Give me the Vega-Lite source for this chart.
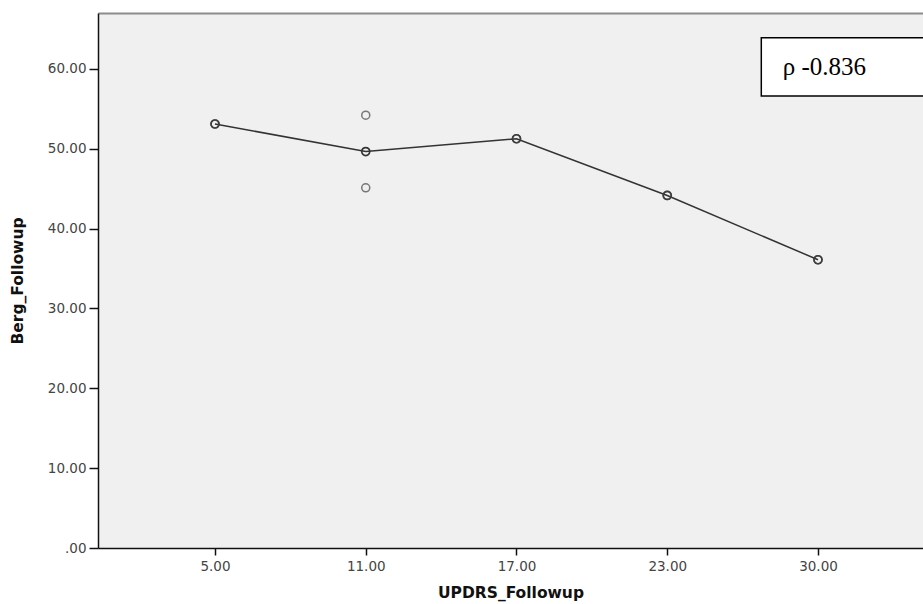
{
  "$schema": "https://vega.github.io/schema/vega-lite/v6.json",
  "autosize": {"type": "none"},
  "padding": {"left": 98, "top": 13, "right": 0, "bottom": 56},
  "width": 825,
  "height": 535,
  "background": "white",
  "config": {
    "view": {"stroke": null, "fill": "#f0f0f0"},
    "axis": {
      "labelFont": "DejaVu Sans",
      "labelFontSize": 13.5,
      "labelColor": "#444444",
      "titleFont": "DejaVu Sans",
      "titleFontSize": 15.5,
      "titleFontWeight": "bold",
      "titleColor": "#111111",
      "domainColor": "#111111",
      "domainWidth": 1.5,
      "tickColor": "#111111",
      "tickWidth": 1.5,
      "grid": false
    }
  },
  "datasets": {
    "scores": [
      {"UPDRS_Followup": 5, "Berg_Followup": 53.1},
      {"UPDRS_Followup": 11, "Berg_Followup": 54.2},
      {"UPDRS_Followup": 11, "Berg_Followup": 45.1},
      {"UPDRS_Followup": 17, "Berg_Followup": 51.25},
      {"UPDRS_Followup": 23, "Berg_Followup": 44.15},
      {"UPDRS_Followup": 30, "Berg_Followup": 36.1}
    ],
    "note": [{"label": "ρ -0.836"}]
  },
  "layer": [
    {
      "data": {"name": "scores"},
      "layer": [
        {
          "mark": {"type": "line", "color": "#333333", "strokeWidth": 1.5},
          "encoding": {
            "x": {"field": "UPDRS_Followup", "type": "ordinal"},
            "y": {"aggregate": "mean", "field": "Berg_Followup", "type": "quantitative"}
          }
        },
        {
          "mark": {"type": "point", "shape": "circle", "filled": false, "color": "#333333", "strokeWidth": 1.7, "size": 64},
          "encoding": {
            "x": {"field": "UPDRS_Followup", "type": "ordinal"},
            "y": {"aggregate": "mean", "field": "Berg_Followup", "type": "quantitative"}
          }
        },
        {
          "mark": {"type": "point", "shape": "circle", "filled": false, "color": "#444444", "strokeWidth": 1.5, "size": 64},
          "encoding": {
            "x": {
              "field": "UPDRS_Followup",
              "type": "ordinal",
              "scale": {"type": "point", "padding": 0.7363, "align": 0.527},
              "axis": {
                "labelAngle": 0,
                "labelAlign": "center",
                "labelBaseline": "top",
                "labelExpr": "format(datum.value, '.2f')",
                "tickSize": 7,
                "labelPadding": 4,
                "titlePadding": 13,
                "title": "UPDRS_Followup"
              }
            },
            "y": {
              "field": "Berg_Followup",
              "type": "quantitative",
              "scale": {"domain": [0, 67], "nice": false, "zero": true},
              "axis": {
                "values": [0, 10, 20, 30, 40, 50, 60],
                "labelExpr": "datum.value == 0 ? '.00' : format(datum.value, '.2f')",
                "tickSize": 9,
                "labelPadding": 3,
                "titlePadding": 22,
                "title": "Berg_Followup"
              }
            }
          }
        }
      ]
    },
    {
      "data": {"name": "note"},
      "layer": [
        {
          "mark": {"type": "rect", "fill": "white", "stroke": "black", "strokeWidth": 1.5, "clip": true},
          "encoding": {
            "x": {
              "datum": 0.804,
              "type": "quantitative",
              "scale": {"domain": [0, 1], "nice": false},
              "axis": {"orient": "top", "labels": false, "ticks": false, "title": null, "domainColor": "#8c8c8c", "domainWidth": 2}
            },
            "x2": {"datum": 1.02},
            "y": {"datum": 63.9, "type": "quantitative"},
            "y2": {"datum": 56.6}
          }
        },
        {
          "mark": {"type": "text", "font": "Liberation Serif", "fontSize": 25, "align": "left", "baseline": "middle", "color": "black"},
          "encoding": {
            "text": {"field": "label"},
            "x": {"datum": 0.830, "type": "quantitative"},
            "y": {"datum": 60.3, "type": "quantitative"}
          }
        }
      ]
    }
  ],
  "resolve": {"scale": {"x": "independent"}, "axis": {"x": "independent"}}
}
